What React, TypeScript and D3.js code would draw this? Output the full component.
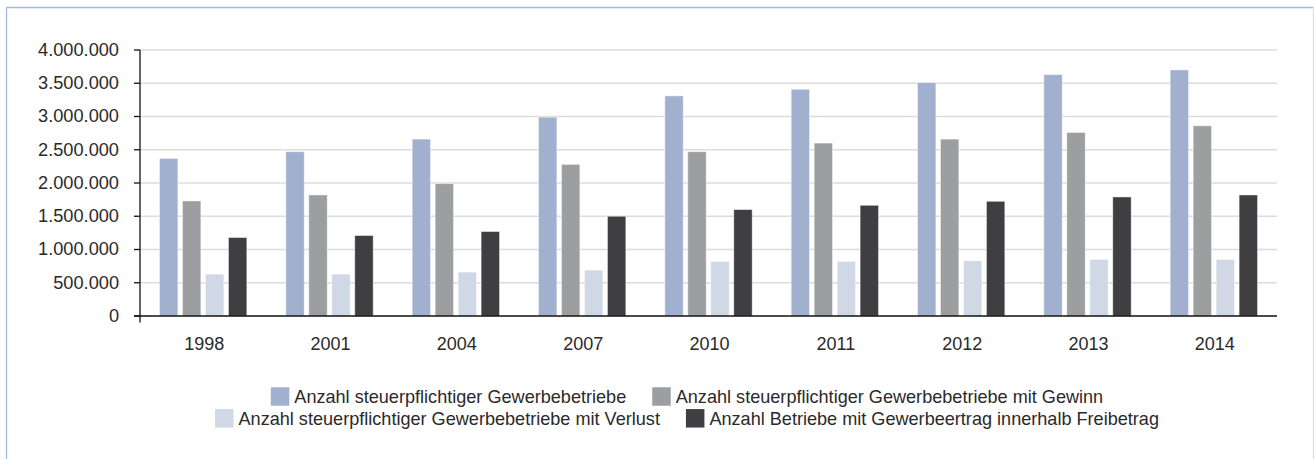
import React, { useEffect, useRef } from "react";
import * as d3 from "d3";

const years = ["1998", "2001", "2004", "2007", "2010", "2011", "2012", "2013", "2014"];
const seriesNames = [
  "Anzahl steuerpflichtiger Gewerbebetriebe",
  "Anzahl steuerpflichtiger Gewerbebetriebe mit Gewinn",
  "Anzahl steuerpflichtiger Gewerbebetriebe mit Verlust",
  "Anzahl Betriebe mit Gewerbeertrag innerhalb Freibetrag",
];
const gewerbebetriebe = [2370000, 2470000, 2660000, 2990000, 3310000, 3410000, 3510000, 3630000, 3700000];
const mitGewinn = [1730000, 1820000, 1990000, 2280000, 2470000, 2600000, 2660000, 2760000, 2860000];
const mitVerlust = [630000, 630000, 660000, 690000, 820000, 820000, 830000, 850000, 850000];
const freibetrag = [1180000, 1210000, 1270000, 1500000, 1600000, 1665000, 1725000, 1790000, 1820000];
const yTicks = [0, 500000, 1000000, 1500000, 2000000, 2500000, 3000000, 3500000, 4000000];
const colors = ["#a2b0cf", "#9d9e9f", "#d0d8e5", "#3f3f41"];

const W = 1314;
const H = 459;
const FONT = "'Liberation Sans', Arial, Helvetica, sans-serif";

export default function App() {
  const ref = useRef<SVGSVGElement>(null);

  useEffect(() => {
    const svg = d3.select(ref.current);
    svg.selectAll("*").remove();

    const values = [gewerbebetriebe, mitGewinn, mitVerlust, freibetrag];
    const left = 140, right = 1277, top = 50, bottom = 316;

    // frame
    svg.append("line").attr("x1", 6.5).attr("x2", 6.5).attr("y1", 7.5).attr("y2", H)
      .attr("stroke", "#a9b9da").attr("stroke-width", 1.3);
    svg.append("line").attr("x1", 6).attr("x2", 1313.5).attr("y1", 7.5).attr("y2", 7.5)
      .attr("stroke", "#a9b9da").attr("stroke-width", 1.3);
    svg.append("line").attr("x1", 1313.5).attr("x2", 1313.5).attr("y1", 7).attr("y2", H)
      .attr("stroke", "#d9deea").attr("stroke-width", 1.3);

    const y = d3.scaleLinear().domain([0, 4000000]).range([bottom, top]);
    const x0 = d3.scaleBand<string>().domain(years).range([left, right]).padding(0);
    const slot = x0.bandwidth();
    const x1 = d3.scaleBand<number>().domain([0, 1, 2, 3])
      .range([19.5, slot - 19.5]).paddingInner(0.2).paddingOuter(0);

    const fmt = (v: number) => d3.format(",")(v).replace(/,/g, ".");

    // gridlines
    svg.append("g").selectAll("line").data(yTicks.filter((t) => t > 0)).join("line")
      .attr("x1", left).attr("x2", right)
      .attr("y1", (d) => y(d)).attr("y2", (d) => y(d))
      .attr("stroke", "#dcdcdc").attr("stroke-width", 1.4);

    // bars
    const g = svg.append("g");
    years.forEach((yr, i) => {
      values.forEach((vals, s) => {
        g.append("rect")
          .attr("x", x0(yr)! + x1(s)!)
          .attr("y", y(vals[i]))
          .attr("width", x1.bandwidth())
          .attr("height", bottom - y(vals[i]))
          .attr("fill", colors[s])
          .attr("stroke", "rgba(255,255,255,0.55)")
          .attr("stroke-width", 0.8);
      });
    });

    // axes lines
    svg.append("line").attr("x1", left).attr("x2", left).attr("y1", top).attr("y2", 322.5)
      .attr("stroke", "#111").attr("stroke-width", 1.3);
    svg.append("line").attr("x1", 134).attr("x2", right).attr("y1", bottom).attr("y2", bottom)
      .attr("stroke", "#111").attr("stroke-width", 1.3);
    svg.append("g").selectAll("line").data(yTicks).join("line")
      .attr("x1", 134).attr("x2", left).attr("y1", (d) => y(d)).attr("y2", (d) => y(d))
      .attr("stroke", "#111").attr("stroke-width", 1.3);

    // y labels
    svg.append("g").selectAll("text").data(yTicks).join("text")
      .attr("x", 119).attr("y", (d) => y(d) - 0.5).attr("dy", "0.35em")
      .attr("text-anchor", "end").attr("font-family", FONT).attr("font-size", 18.2)
      .attr("fill", "#2a2a2a").text((d) => fmt(d));

    // x labels
    svg.append("g").selectAll("text").data(years).join("text")
      .attr("x", (d) => x0(d)! + slot / 2 + 1).attr("y", 344).attr("dy", "0.35em")
      .attr("text-anchor", "middle").attr("font-family", FONT).attr("font-size", 18)
      .attr("fill", "#2a2a2a").text((d) => d);

    // legend
    const rows = [[0, 1], [2, 3]];
    const rowCenters = [396.5, 418.3];
    const sw = 18.5, gapT = 5, gapItem = 26, cx = 687;
    rows.forEach((row, r) => {
      const lg = svg.append("g");
      let cursor = 0;
      row.forEach((s) => {
        const item = lg.append("g").attr("transform", `translate(${cursor},0)`);
        item.append("rect").attr("x", 0).attr("y", rowCenters[r] - sw / 2)
          .attr("width", sw).attr("height", sw).attr("fill", colors[s]);
        const t = item.append("text").attr("x", sw + gapT).attr("y", rowCenters[r]).attr("dy", "0.35em")
          .attr("font-family", FONT).attr("font-size", 18.1).attr("fill", "#2a2a2a")
          .text(seriesNames[s]);
        const tw = (t.node() as SVGTextElement).getComputedTextLength();
        cursor += sw + gapT + tw + gapItem;
      });
      const total = cursor - gapItem;
      lg.attr("transform", `translate(${cx - total / 2},0)`);
    });
  }, []);

  return (
    <div style={{ position: "absolute", left: 0, top: 0, width: W, height: H, background: "#fff" }}>
      <svg ref={ref} width={W} height={H} style={{ display: "block" }} />
    </div>
  );
}
